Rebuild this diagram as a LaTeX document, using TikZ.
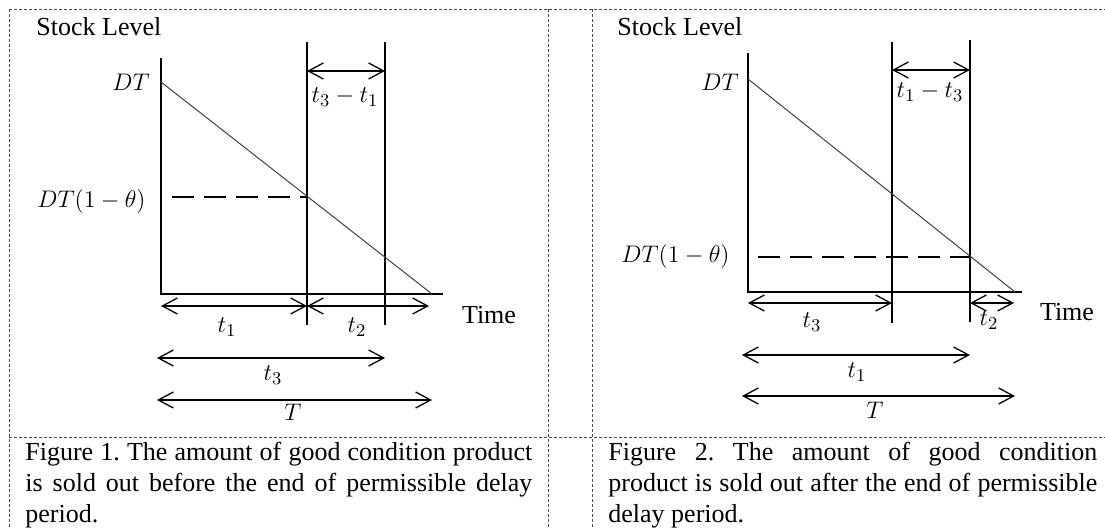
\documentclass[tikz,border=0pt]{standalone}
\usepackage[no-math]{fontspec}
\setmainfont{Liberation Serif}
\usetikzlibrary{arrows.meta}
\begin{document}
\frenchspacing
\begin{tikzpicture}[x=0.5pt,y=-0.5pt,
  axis/.style={line width=0.7pt,black},
  diag/.style={line width=0.5pt,black!75},
  dim/.style={line width=0.65pt,{Straight Barb[length=7.5pt,width=8pt]}-{Straight Barb[length=7.5pt,width=8pt]}},
  level/.style={line width=0.65pt,dash pattern=on 11pt off 5pt},
  frame/.style={line width=0.4pt,black!70,dash pattern=on 1.5pt off 1pt},
  txt/.style={font=\fontsize{13}{15.5}\selectfont,inner sep=0pt},
  lab/.style={font=\fontsize{12.5}{14}\selectfont,inner sep=0pt},
]
\useasboundingbox (0,0) rectangle (1105,528);
% frame
\coordinate (F1) at (9,9); \coordinate (F2) at (1105,9);
\coordinate (F3) at (9.6,9); \coordinate (F4) at (9.6,528);
\coordinate (F5) at (548,9); \coordinate (F6) at (548,528);
\coordinate (F7) at (592,9); \coordinate (F8) at (592,528);
\coordinate (F9) at (9,437); \coordinate (F10) at (1105,437);
\draw[frame] (F1) -- (F2);
\draw[frame] (F3) -- (F4);
\draw[frame] (F5) -- (F6);
\draw[frame] (F7) -- (F8);
\draw[frame] (F9) -- (F10);

% ---------- left panel ----------
\coordinate (Ao) at (161,294);
\coordinate (Atop) at (161,58);
\coordinate (Aend) at (443,294);
\coordinate (Ad0) at (161,82);
\coordinate (Ad1) at (432,294);
\coordinate (Av1t) at (307,42); \coordinate (Av1b) at (307,325);
\coordinate (Av2t) at (385,42); \coordinate (Av2b) at (385,325);
\coordinate (Al0) at (172,197); \coordinate (Al1) at (307,197);
\coordinate (Aa0) at (307,71); \coordinate (Aa1) at (385,71);
\coordinate (At10) at (161,306); \coordinate (At11) at (307,306);
\coordinate (At20) at (307,306); \coordinate (At21) at (429,306);
\coordinate (At30) at (157,358); \coordinate (At31) at (385,358);
\coordinate (AT0) at (157,400); \coordinate (AT1) at (432,400);

\draw[axis] (Atop) -- (Ao) -- (Aend);
\draw[axis] (Av1t) -- (Av1b);
\draw[axis] (Av2t) -- (Av2b);
\draw[diag] (Ad0) -- (Ad1);
\draw[level] (Al0) -- (Al1);
\draw[dim] (Aa0) -- (Aa1);
\draw[dim] (At10) -- (At11);
\draw[dim] (At20) -- (At21);
\draw[dim] (At30) -- (At31);
\draw[dim] (AT0) -- (AT1);

\node[txt,anchor=west] (Astock) at (36,27) {Stock Level};
\node[lab,anchor=east] (ADT) at (150,82) {$DT$};
\node[lab,anchor=east] (ADTt) at (146,202) {$DT(1-\theta)$};
\node[lab] (Ad31) at (345,97) {$t_3-t_1$};
\node[lab] (At1) at (227,327) {$t_1$};
\node[lab] (At2) at (357,327) {$t_2$};
\node[txt] (Atime) at (489,315) {Time};
\node[lab] (At3) at (273,375) {$t_3$};
\node[lab] (AT) at (293,412) {$T$};

\node[txt,anchor=base west] (cap1) at (25,461) {\parbox[t]{253.5pt}{\hyphenpenalty=10000
Figure 1. The amount of good condition product\linebreak
is sold out before the end of permissible delay\linebreak
period.}};

% ---------- right panel ----------
\coordinate (Bo) at (748,292);
\coordinate (Btop) at (748,53);
\coordinate (Bend) at (1022,292);
\coordinate (Bd0) at (748,79);
\coordinate (Bd1) at (1015,292);
\coordinate (Bv1t) at (892,42); \coordinate (Bv1b) at (892,323);
\coordinate (Bv2t) at (970,40); \coordinate (Bv2b) at (970,322);
\coordinate (Bl0) at (758,257); \coordinate (Bl1) at (970,257);
\coordinate (Ba0) at (892,70); \coordinate (Ba1) at (970,70);
\coordinate (Bt30) at (748,303); \coordinate (Bt31) at (892,303);
\coordinate (Bt20) at (970,303); \coordinate (Bt21) at (1014,303);
\coordinate (Bt10) at (742,355); \coordinate (Bt11) at (970,355);
\coordinate (BT0) at (742,396); \coordinate (BT1) at (1015,396);

\draw[axis] (Btop) -- (Bo) -- (Bend);
\draw[axis] (Bv1t) -- (Bv1b);
\draw[axis] (Bv2t) -- (Bv2b);
\draw[diag] (Bd0) -- (Bd1);
\draw[level] (Bl0) -- (Bl1);
\draw[dim] (Ba0) -- (Ba1);
\draw[dim] (Bt30) -- (Bt31);
\draw[dim] (Bt20) -- (Bt21);
\draw[dim] (Bt10) -- (Bt11);
\draw[dim] (BT0) -- (BT1);

\node[txt,anchor=west] (Bstock) at (617,27) {Stock Level};
\node[lab,anchor=east] (BDT) at (739,82) {$DT$};
\node[lab,anchor=east] (BDTt) at (730,257) {$DT(1-\theta)$};
\node[lab] (Bd13) at (930,92) {$t_1-t_3$};
\node[lab] (Bt3) at (812,322) {$t_3$};
\node[lab] (Bt2) at (989,320) {$t_2$};
\node[txt] (Btime) at (1067,312) {Time};
\node[lab] (Bt1) at (857,372) {$t_1$};
\node[lab] (BT) at (875,410) {$T$};

\node[txt,anchor=base west] (cap2) at (608,461) {\parbox[t]{244.5pt}{\hyphenpenalty=10000
Figure 2. The amount of good condition\linebreak
product is sold out after the end of permissible\linebreak
delay period.}};
\end{tikzpicture}
\end{document}
